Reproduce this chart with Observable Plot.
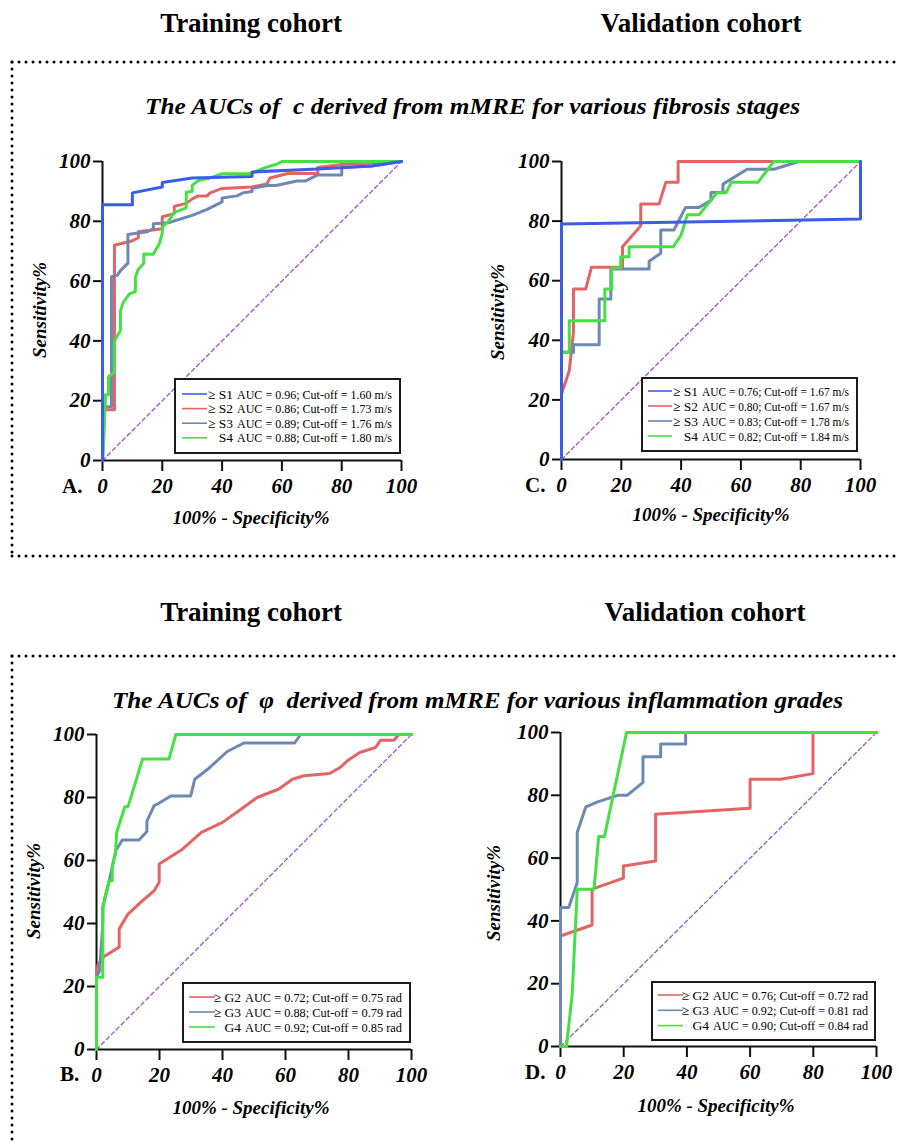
<!DOCTYPE html>
<html><head><meta charset="utf-8">
<script src="https://cdn.jsdelivr.net/npm/d3@7"></script>
<script src="https://cdn.jsdelivr.net/npm/@observablehq/plot@0.6"></script>
<style>
body{margin:0;background:#fff;}
#root{position:relative;width:899px;height:1145px;overflow:hidden;background:#fff;}
#root svg{position:absolute;}
</style>
</head><body><div id="root"></div>
<script>
// ---------- data ----------
const xTicks = [0, 20, 40, 60, 80, 100];
const yTicks = [0, 20, 40, 60, 80, 100];
const diagonal = [[0, 0], [100, 100]];
const axisOrigin = [0];

const fibrosisKeys = ["S1", "S2", "S3", "S4"];
const fibrosisLabels = ["≥ S1", "≥ S2", "≥ S3", "S4"];
const inflamKeys = ["G2", "G3", "G4"];
const inflamLabels = ["≥ G2", "≥ G3", "G4"];

const A_S1 = [[0,0],[0,85.5],[10,85.5],[10,89.5],[20,91.5],[20,93],[30,94.5],[50,95],[50,96.5],[72,97.5],[90,98.5],[100,100]];
const A_S2 = [[0,0],[0.5,17],[4,17],[4,72],[10,73.5],[12,74.5],[12,76.5],[20,77.5],[20,81.5],[24,82.5],[24,85],[28,86],[30,87.5],[32,88.5],[35,88.5],[36,89.5],[40,91],[50,91.5],[55,92.5],[56,94.5],[62,96],[72,96],[72,98],[80,99],[90,99.5],[100,100]];
const A_S3 = [[0,0],[0.5,18],[3,18],[3,61.5],[5,62],[6,63.5],[8.5,66],[8.5,75.6],[15,76.5],[17,77.5],[17,79.2],[22,79.5],[30,82],[35,84],[38,85.5],[40,86.5],[40,87.8],[45,88.5],[47,89.5],[50,90],[50,91],[55,92],[58,92],[65,93.5],[68,93.5],[72,95.5],[80,95.5],[80,98],[90,98.5],[100,100]];
const A_S4 = [[0,0],[0.4,6],[1,22],[2,22],[2,28],[4,29.5],[4,40],[6,43.5],[6,50],[7,53],[9,55.7],[11,56.5],[11,61.3],[12,64],[13.8,66],[13.8,69.1],[17,69],[19,72.5],[20,76],[20,78],[22,80],[24,83],[28,84.5],[28,89.7],[30,90],[30,92],[32,93.6],[36,94.5],[40,95.9],[50,96],[52,97],[56,98.5],[58,99],[60,100],[100,100]];
const A_legend = ["AUC = 0.96; Cut-off = 1.60 m/s", "AUC = 0.86; Cut-off = 1.73 m/s", "AUC = 0.89; Cut-off = 1.76 m/s", "AUC = 0.88; Cut-off = 1.80 m/s"];

const C_S1 = [[0,0],[0,79],[100,80.7],[100,100]];
const C_S2 = [[0,0],[0,22],[2.6,29.8],[4,42.7],[4,57.2],[8.1,57.2],[10,64.5],[20.4,64.5],[20.4,71.4],[26.5,78.4],[26.5,85.7],[32.6,85.7],[34.9,93],[39,93],[39,100],[100,100]];
const C_S3 = [[0,0],[0,36],[4,36],[4,38.5],[12.6,38.5],[12.6,53.9],[16.5,53.9],[16.5,63.9],[29.3,63.9],[29.3,66.5],[33.2,69.2],[33.2,77],[37.6,77],[41.5,84.6],[46,84.6],[50,87],[50,89.6],[54,89.6],[54,92.4],[62.1,97.4],[71,97.4],[79.4,100],[100,100]];
const C_S4 = [[0,0],[0,36],[2.6,36],[2.6,46.6],[14.5,46.6],[14.5,57.2],[16.8,57.2],[16.8,64.3],[19.8,64.3],[19.8,68],[22.6,68],[22.6,71.4],[37.4,71.4],[39.9,75.1],[42.1,82.1],[46,82.1],[50,87],[52,89.5],[55,89.5],[56.8,93],[65.7,93],[71,100],[100,100]];
const C_legend = ["AUC = 0.76; Cut-off = 1.67 m/s", "AUC = 0.80; Cut-off = 1.67 m/s", "AUC = 0.83; Cut-off = 1.78 m/s", "AUC = 0.82; Cut-off = 1.84 m/s"];

const B_G2 = [[0,0],[0,24],[0.5,27],[2.4,29.5],[7.2,32.5],[7.2,38.3],[9.3,41.8],[10,43],[14,46.7],[18.3,50.4],[19.9,53.1],[19.9,58.9],[27.3,63.6],[33.3,68.9],[40,72.1],[45.2,75.8],[51,80],[57.9,82.7],[62.2,85.8],[65.9,86.9],[74,87.6],[77.3,89.5],[80.1,92],[83.6,94.3],[88.6,95.9],[90.2,98.2],[94.4,98.2],[96,100],[100,100]];
const B_G3 = [[0,0],[0,23],[1,25],[2,40],[2,45.1],[4.3,54.7],[6.1,63.1],[8.2,66.5],[13.5,66.5],[16,69.2],[16,72.5],[18.3,77.4],[19,77.7],[23.6,80.5],[29.9,80.5],[31.2,85.8],[35.7,89.3],[41.5,94.6],[46.8,97.3],[62.9,97.3],[64.8,100],[100,100]];
const B_G4 = [[0,0],[0,22.9],[2,22.9],[2,45.1],[4,53.6],[5,53.6],[5,58],[6,62],[6.4,68.9],[9,77.1],[10,77.1],[11.9,83.2],[14.6,92.2],[23,92.2],[25.2,100],[100,100]];
const B_legend = ["AUC = 0.72; Cut-off = 0.75 rad", "AUC = 0.88; Cut-off = 0.79 rad", "AUC = 0.92; Cut-off = 0.85 rad"];

const D_G2 = [[0,0],[0,35.2],[10,38.7],[10,50.1],[19.9,53.6],[19.9,57.5],[30.1,59.1],[30.1,74],[60,75.9],[60,85.1],[69.7,85.1],[79.9,86.9],[79.9,100],[100,100]];
const D_G3 = [[0,0],[0,44.3],[2.6,44.3],[5.3,52.2],[5.3,68.2],[8,76.3],[12,78],[18.2,80],[21.1,80],[26.1,84.1],[26.1,92.3],[31.7,92.3],[31.7,96.3],[39.6,96.3],[39.6,100],[100,100]];
const D_G4 = [[0,0],[1.9,0],[3.7,16.7],[5.3,50.1],[10.6,50.1],[12.1,66.9],[13.9,66.9],[20.9,100],[100,100]];
const D_legend = ["AUC = 0.76; Cut-off = 0.72 rad", "AUC = 0.92; Cut-off = 0.81 rad", "AUC = 0.90; Cut-off = 0.84 rad"];

const headings = ["Training cohort", "Validation cohort"];
const subtitle1 = "The AUCs of  c derived from mMRE for various fibrosis stages";
const subtitle2 = "The AUCs of  φ  derived from mMRE for various inflammation grades";
const xTitle = "100% - Specificity%";
const yTitle = "Sensitivity%";

// ---------- styles ----------
const SERIF = '"Liberation Serif", "Times New Roman", Times, serif';
const colorOf = {S1: "#3a5ce8", S2: "#e46464", S3: "#6d89b3", S4: "#44e044", G2: "#e46464", G3: "#6d89b3", G4: "#44e044"};
const DIAG = "#a24fc8";

const panels = [
  {letter: "A.", keys: fibrosisKeys, labels: fibrosisLabels, series: {S1: A_S1, S2: A_S2, S3: A_S3, S4: A_S4}, order: ["S2","S3","S4","S1"], legend: A_legend,
   frame: {x0: 102, x1: 401, yTop: 161, yBottom: 460},
   letterPos: [62, 493], xTitlePos: [251, 524], yTitlePos: [40, 310],
   lg: {x: 175, y: 379, w: 225, h: 74, l0: 182, l1: 207, labelEnd: 233, textX: 237, textLen: 155, row0: 394, step: 14.6}},
  {letter: "C.", keys: fibrosisKeys, labels: fibrosisLabels, series: {S1: C_S1, S2: C_S2, S3: C_S3, S4: C_S4}, order: ["S2","S3","S4","S1"], legend: C_legend,
   frame: {x0: 561, x1: 860, yTop: 161, yBottom: 459},
   letterPos: [525, 492], xTitlePos: [711, 521], yTitlePos: [498, 312],
   lg: {x: 642, y: 378, w: 215, h: 73, l0: 648, l1: 672, labelEnd: 698, textX: 702, textLen: 147, row0: 391, step: 15}},
  {letter: "B.", keys: inflamKeys, labels: inflamLabels, series: {G2: B_G2, G3: B_G3, G4: B_G4}, order: ["G2","G3","G4"], legend: B_legend,
   frame: {x0: 96, x1: 411, yTop: 734, yBottom: 1049},
   letterPos: [60, 1081], xTitlePos: [251, 1114], yTitlePos: [34, 891],
   lg: {x: 183, y: 983, w: 227, h: 59, l0: 189, l1: 215, labelEnd: 241, textX: 245, textLen: 157, row0: 997, step: 15}},
  {letter: "D.", keys: inflamKeys, labels: inflamLabels, series: {G2: D_G2, G3: D_G3, G4: D_G4}, order: ["G2","G3","G4"], legend: D_legend,
   frame: {x0: 560, x1: 876, yTop: 732, yBottom: 1046},
   letterPos: [525, 1079], xTitlePos: [716, 1112], yTitlePos: [494, 893],
   lg: {x: 652, y: 982, w: 223, h: 58, l0: 658, l1: 683, labelEnd: 709, textX: 713, textLen: 155, row0: 995, step: 15.3}}
];

const root = document.getElementById("root");

for (const p of panels) {
  const {x0, x1, yTop, yBottom} = p.frame;
  const mL = 70, mR = 30, mT = 20, mB = 45;
  const data = p.order.flatMap(k => p.series[k].map(([x, y]) => ({key: k, x, y})));
  const chart = Plot.plot({
    width: (x1 - x0) + mL + mR,
    height: (yBottom - yTop) + mT + mB,
    marginLeft: mL, marginRight: mR, marginTop: mT, marginBottom: mB,
    x: {domain: [0, 100]},
    y: {domain: [0, 100]},
    color: {domain: p.keys, range: p.keys.map(k => colorOf[k])},
    style: {fontFamily: SERIF, fontSize: "21px", fontWeight: "bold", fontStyle: "italic", color: "black", background: "transparent", overflow: "visible"},
    marks: [
      Plot.line(diagonal, {x: d => d[0], y: d => d[1], stroke: DIAG, strokeWidth: 1.3, strokeDasharray: "4,3"}),
      Plot.ruleX(axisOrigin, {stroke: "#111", strokeWidth: 2}),
      Plot.ruleY(axisOrigin, {stroke: "#111", strokeWidth: 2}),
      Plot.axisX({ticks: xTicks, tickSize: 11, tickPadding: 7, strokeWidth: 2, stroke: "#111", label: null, tickFormat: d => String(d)}),
      Plot.axisY({ticks: yTicks, tickSize: 9, tickPadding: 3, strokeWidth: 2, stroke: "#111", label: null, tickFormat: d => String(d)}),
      Plot.line(data, {x: "x", y: "y", z: "key", stroke: "key", strokeWidth: 3, strokeLinejoin: "round"})
    ]
  });
  chart.style.left = (x0 - mL) + "px";
  chart.style.top = (yTop - mT) + "px";
  root.appendChild(chart);
}

const svg = d3.select(root).append("svg")
  .attr("width", 899).attr("height", 1145)
  .style("left", "0px").style("top", "0px").style("pointer-events", "none")
  .style("font-family", SERIF);

const dotted = [
  [12, 62, 899, 62], [12, 62, 12, 556], [12, 556, 899, 556],
  [12, 656, 899, 656], [12, 656, 12, 1145]
];
svg.selectAll("line.dot").data(dotted).join("line")
  .attr("x1", d => d[0]).attr("y1", d => d[1]).attr("x2", d => d[2]).attr("y2", d => d[3])
  .attr("stroke", "#000").attr("stroke-width", 3).attr("stroke-linecap", "round").attr("stroke-dasharray", "0,7");

const headPos = [[251, 32], [701, 32], [251, 621], [705, 621]];
headPos.forEach(([x, y], i) => {
  svg.append("text").attr("x", x).attr("y", y).attr("text-anchor", "middle")
    .attr("font-size", 27).attr("font-weight", "bold").text(headings[i % 2]);
});

svg.append("text").attr("x", 145).attr("y", 114).attr("font-size", 23).attr("font-weight", "bold").attr("font-style", "italic")
  .attr("textLength", 655).attr("lengthAdjust", "spacingAndGlyphs").style("white-space", "pre").text(subtitle1);
svg.append("text").attr("x", 112).attr("y", 708).attr("font-size", 24).attr("font-weight", "bold").attr("font-style", "italic")
  .attr("textLength", 731).attr("lengthAdjust", "spacingAndGlyphs").style("white-space", "pre").text(subtitle2);

for (const p of panels) {
  svg.append("text").attr("x", p.letterPos[0]).attr("y", p.letterPos[1]).attr("font-size", 21).attr("font-weight", "bold").text(p.letter);
  svg.append("text").attr("x", p.xTitlePos[0]).attr("y", p.xTitlePos[1]).attr("text-anchor", "middle")
    .attr("font-size", 19).attr("font-weight", "bold").attr("font-style", "italic").text(xTitle);
  svg.append("text").attr("transform", `translate(${p.yTitlePos[0]},${p.yTitlePos[1]}) rotate(-90)`)
    .attr("text-anchor", "middle").attr("dy", "0.33em")
    .attr("font-size", 19).attr("font-weight", "bold").attr("font-style", "italic").text(yTitle);

  const g = p.lg;
  svg.append("rect").attr("x", g.x).attr("y", g.y).attr("width", g.w).attr("height", g.h)
    .attr("fill", "#fff").attr("stroke", "#1a1a1a").attr("stroke-width", 2);
  p.keys.forEach((k, i) => {
    const cy = g.row0 + i * g.step;
    svg.append("line").attr("x1", g.l0).attr("x2", g.l1).attr("y1", cy).attr("y2", cy)
      .attr("stroke", colorOf[k]).attr("stroke-width", 1.6);
    svg.append("text").attr("x", g.labelEnd).attr("y", cy + 4.6).attr("text-anchor", "end")
      .attr("font-size", 13.5).text(p.labels[i]);
    svg.append("text").attr("x", g.textX).attr("y", cy + 4.6)
      .attr("font-size", 13.5).attr("textLength", g.textLen).attr("lengthAdjust", "spacingAndGlyphs").text(p.legend[i]);
  });
}
</script>
</body></html>
